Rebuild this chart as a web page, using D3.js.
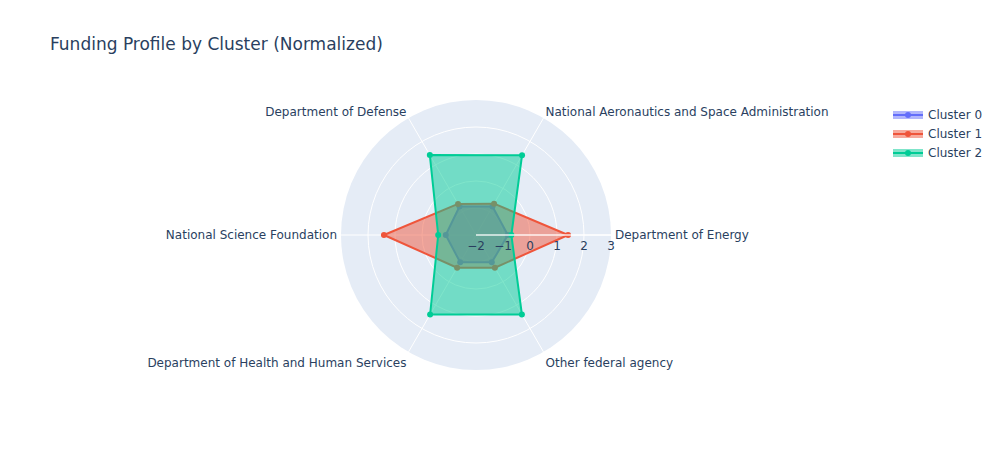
<!DOCTYPE html>
<html>
<head>
<meta charset="utf-8">
<script src="https://cdn.jsdelivr.net/npm/d3@7"></script>
<style>
  body { margin: 0; background: #fff; }
  svg { display: block; font-family: "DejaVu Sans", "Open Sans", sans-serif; }
</style>
</head>
<body>
<svg id="chart" width="1000" height="450"></svg>
<script>
const categories = [
  "Department of Energy",
  "National Aeronautics and Space Administration",
  "Department of Defense",
  "National Science Foundation",
  "Department of Health and Human Services",
  "Other federal agency"
];
const seriesNames = ["Cluster 0", "Cluster 1", "Cluster 2"];
const cluster0 = [-0.82, -0.78, -0.78, -0.88, -0.83, -0.83];
const cluster1 = [1.41, -0.66, -0.67, 1.41, -0.60, -0.60];
const cluster2 = [-0.69, 1.41, 1.42, -0.60, 1.40, 1.40];
const radialTicks = [-2, -1, 0, 1, 2, 3];
const colors = ["#636efa", "#EF553B", "#00cc96"];
const seriesValues = [cluster0, cluster1, cluster2];

const svg = d3.select("#chart");
const cx = 476, cy = 235, R = 135;
const textColor = "#2a3f5f";

const r = d3.scaleLinear().domain([-2, 3]).range([0, R]);
const angle = d3.scalePoint().domain(categories).range([0, 300]); // degrees, counterclockwise
const rad = d => d * Math.PI / 180;
const px = (a, rr) => cx + rr * Math.cos(rad(a));
const py = (a, rr) => cy - rr * Math.sin(rad(a));

// title
svg.append("text").attr("x", 50).attr("y", 50)
  .attr("font-size", 17).attr("fill", textColor)
  .text("Funding Profile by Cluster (Normalized)");

const g = svg.append("g");
g.append("circle").attr("cx", cx).attr("cy", cy).attr("r", R).attr("fill", "#E5ECF6");
radialTicks.slice(1, -1).forEach(t => {
  g.append("circle").attr("cx", cx).attr("cy", cy).attr("r", r(t))
    .attr("fill", "none").attr("stroke", "#fff").attr("stroke-width", 1);
});
categories.forEach(c => {
  const a = angle(c);
  g.append("line").attr("x1", cx).attr("y1", cy)
    .attr("x2", px(a, R)).attr("y2", py(a, R))
    .attr("stroke", "#fff").attr("stroke-width", 1);
});

// traces
seriesValues.forEach((vals, i) => {
  const pts = categories.map((c, j) => [px(angle(c), r(vals[j])), py(angle(c), r(vals[j]))]);
  const tg = svg.append("g");
  tg.append("path")
    .attr("d", d3.line()(pts) + "Z")
    .attr("fill", colors[i]).attr("fill-opacity", 0.5)
    .attr("stroke", colors[i]).attr("stroke-width", 2).attr("stroke-linejoin", "round");
  tg.selectAll("circle").data(pts).join("circle")
    .attr("cx", d => d[0]).attr("cy", d => d[1]).attr("r", 3)
    .attr("fill", colors[i]);
});

// radial axis (above traces)
svg.append("line").attr("x1", cx).attr("y1", cy).attr("x2", cx + R).attr("y2", cy)
  .attr("stroke", "#fff").attr("stroke-width", 1.5).attr("stroke-opacity", 0.85);
radialTicks.forEach(t => {
  svg.append("text").attr("x", cx + r(t)).attr("y", cy + 15)
    .attr("text-anchor", "middle").attr("font-size", 12).attr("fill", textColor)
    .text(t < 0 ? "\u2212" + Math.abs(t) : String(t));
});

// angular labels
categories.forEach(c => {
  const a = angle(c);
  const cosA = Math.cos(rad(a)), sinA = Math.sin(rad(a));
  const x = px(a, R + 4), y = py(a, R + 4);
  const anchor = cosA > 0.01 ? "start" : (cosA < -0.01 ? "end" : "middle");
  const dy = sinA > 0.01 ? 1 : (sinA < -0.01 ? 11.5 : 4);
  svg.append("text").attr("x", x).attr("y", y + dy)
    .attr("text-anchor", anchor).attr("font-size", 12).attr("fill", textColor)
    .text(c);
});

// legend
const lg = svg.append("g");
seriesNames.forEach((n, i) => {
  const y = 115 + i * 19;
  lg.append("rect").attr("x", 893).attr("y", y - 4).attr("width", 30).attr("height", 8)
    .attr("fill", colors[i]).attr("fill-opacity", 0.5);
  lg.append("line").attr("x1", 893).attr("x2", 923).attr("y1", y).attr("y2", y)
    .attr("stroke", colors[i]).attr("stroke-width", 2);
  lg.append("circle").attr("cx", 908).attr("cy", y).attr("r", 3).attr("fill", colors[i]);
  lg.append("text").attr("x", 928).attr("y", y + 4).attr("font-size", 12)
    .attr("fill", textColor).text(n);
});
</script>
</body>
</html>
